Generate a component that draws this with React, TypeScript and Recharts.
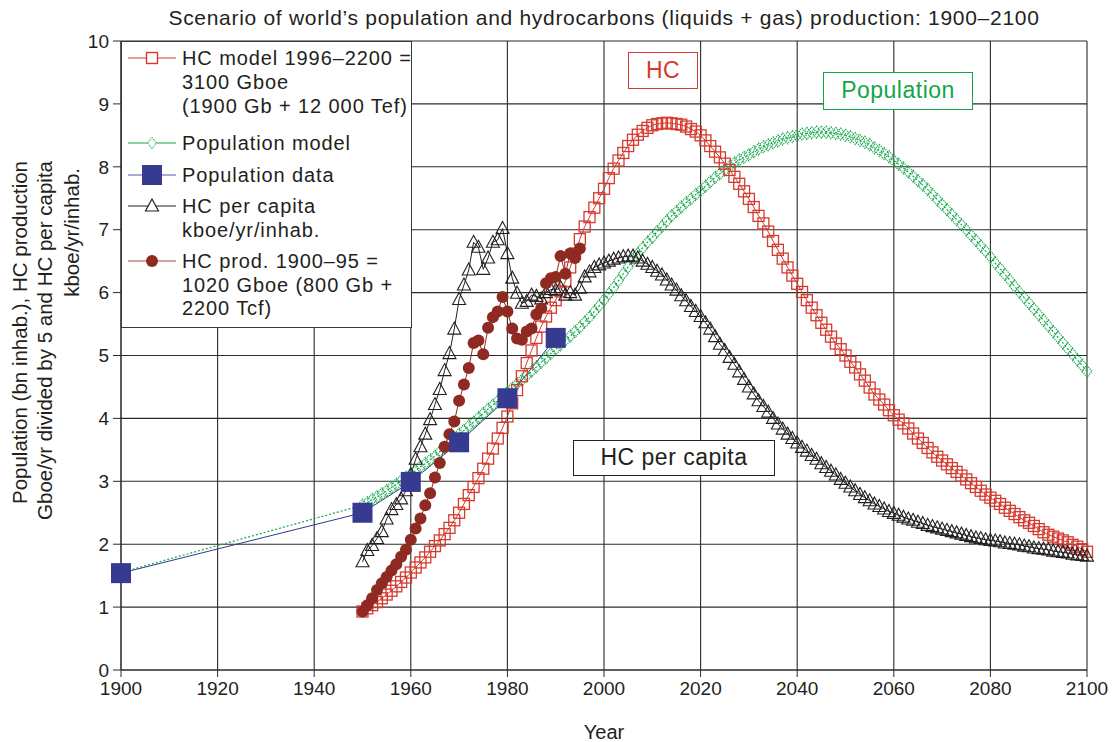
import React from 'react';
import { LineChart, Line, XAxis, YAxis, CartesianGrid } from 'recharts';

const FONT = '"Liberation Sans", Arial, Helvetica, sans-serif';
const TEXT = '#231f20';
const RED = '#d63a2f';
const GREEN = '#13a54a';
const BLUE = '#363a90';
const BLACK = '#231f20';
const BROWN = '#8e2a22';

const xTicks = [1900, 1920, 1940, 1960, 1980, 2000, 2020, 2040, 2060, 2080, 2100];
const yTicks = [0, 1, 2, 3, 4, 5, 6, 7, 8, 9, 10];

const popDataYears = [1900, 1950, 1960, 1970, 1980, 1990];
const popDataValues = [1.54, 2.5, 2.99, 3.62, 4.32, 5.28];

const years = [
  1950, 1951, 1952, 1953, 1954, 1955, 1956, 1957, 1958, 1959,
  1960, 1961, 1962, 1963, 1964, 1965, 1966, 1967, 1968, 1969,
  1970, 1971, 1972, 1973, 1974, 1975, 1976, 1977, 1978, 1979,
  1980, 1981, 1982, 1983, 1984, 1985, 1986, 1987, 1988, 1989,
  1990, 1991, 1992, 1993, 1994, 1995, 1996, 1997, 1998, 1999,
  2000, 2001, 2002, 2003, 2004, 2005, 2006, 2007, 2008, 2009,
  2010, 2011, 2012, 2013, 2014, 2015, 2016, 2017, 2018, 2019,
  2020, 2021, 2022, 2023, 2024, 2025, 2026, 2027, 2028, 2029,
  2030, 2031, 2032, 2033, 2034, 2035, 2036, 2037, 2038, 2039,
  2040, 2041, 2042, 2043, 2044, 2045, 2046, 2047, 2048, 2049,
  2050, 2051, 2052, 2053, 2054, 2055, 2056, 2057, 2058, 2059,
  2060, 2061, 2062, 2063, 2064, 2065, 2066, 2067, 2068, 2069,
  2070, 2071, 2072, 2073, 2074, 2075, 2076, 2077, 2078, 2079,
  2080, 2081, 2082, 2083, 2084, 2085, 2086, 2087, 2088, 2089,
  2090, 2091, 2092, 2093, 2094, 2095, 2096, 2097, 2098, 2099,
  2100,
];

const dataYears = [
  1950, 1951, 1952, 1953, 1954, 1955, 1956, 1957, 1958, 1959,
  1960, 1961, 1962, 1963, 1964, 1965, 1966, 1967, 1968, 1969,
  1970, 1971, 1972, 1973, 1974, 1975, 1976, 1977, 1978, 1979,
  1980, 1981, 1982, 1983, 1984, 1985, 1986, 1987, 1988, 1989,
  1990, 1991, 1992, 1993, 1994, 1995,
];

// HC model (red squares), 1950–2100
const hcModelValues = [
  0.93, 0.98, 1.03, 1.08, 1.14, 1.2, 1.26, 1.33, 1.4, 1.47,
  1.55, 1.63, 1.71, 1.79, 1.88, 1.97, 2.06, 2.16, 2.26, 2.38,
  2.5, 2.64, 2.78, 2.91, 3.05, 3.2, 3.36, 3.52, 3.68, 3.85,
  4.03, 4.24, 4.45, 4.67, 4.88, 5.08, 5.28, 5.46, 5.62, 5.76,
  5.88, 6.02, 6.18, 6.4, 6.62, 6.85, 7.05, 7.2, 7.35, 7.5,
  7.65, 7.82, 7.97, 8.1, 8.22, 8.33, 8.43, 8.51, 8.57, 8.62,
  8.66, 8.68, 8.69, 8.7, 8.69, 8.68, 8.67, 8.64, 8.6, 8.56,
  8.5, 8.42, 8.33, 8.24, 8.15, 8.05, 7.95, 7.84, 7.73, 7.61,
  7.49, 7.36, 7.22, 7.1, 6.97, 6.82, 6.68, 6.54, 6.4, 6.27,
  6.14, 6.01, 5.88, 5.76, 5.64, 5.52, 5.41, 5.3, 5.19, 5.1,
  5.0, 4.9, 4.81, 4.7, 4.6, 4.49, 4.38, 4.3, 4.22, 4.13,
  4.05, 3.98, 3.92, 3.84, 3.76, 3.68, 3.61, 3.53, 3.46, 3.39,
  3.33, 3.27, 3.21, 3.15, 3.09, 3.03, 2.97, 2.91, 2.85, 2.79,
  2.74, 2.69, 2.64, 2.58, 2.53, 2.48, 2.43, 2.38, 2.34, 2.29,
  2.24, 2.19, 2.15, 2.12, 2.09, 2.06, 2.03, 1.99, 1.96, 1.92,
  1.88,
];

// Population model (green diamonds), 1900 then 1950–2100
const popModelStartYear = [1900];
const popModelStartValue = [1.55];
const popModelValues = [
  2.62, 2.66, 2.71, 2.75, 2.8, 2.85, 2.9, 2.95, 3.01, 3.06,
  3.12, 3.17, 3.23, 3.28, 3.34, 3.4, 3.47, 3.54, 3.61, 3.68,
  3.75, 3.81, 3.88, 3.94, 4.01, 4.08, 4.15, 4.21, 4.28, 4.35,
  4.42, 4.48, 4.55, 4.61, 4.68, 4.75, 4.82, 4.89, 4.96, 5.03,
  5.1, 5.17, 5.24, 5.31, 5.38, 5.45, 5.53, 5.61, 5.7, 5.79,
  5.88, 5.98, 6.08, 6.19, 6.3, 6.41, 6.52, 6.62, 6.71, 6.8,
  6.88, 6.97, 7.05, 7.14, 7.22, 7.29, 7.36, 7.43, 7.49, 7.56,
  7.62, 7.69, 7.76, 7.83, 7.89, 7.95, 8.01, 8.06, 8.11, 8.15,
  8.19, 8.24, 8.28, 8.32, 8.35, 8.38, 8.41, 8.44, 8.46, 8.48,
  8.5, 8.52, 8.53, 8.54, 8.55, 8.55, 8.55, 8.54, 8.53, 8.52,
  8.5, 8.48, 8.45, 8.42, 8.39, 8.35, 8.3, 8.26, 8.21, 8.16,
  8.1, 8.04, 7.98, 7.92, 7.85, 7.78, 7.71, 7.64, 7.56, 7.48,
  7.4, 7.32, 7.24, 7.16, 7.08, 7.0, 6.91, 6.83, 6.74, 6.66,
  6.57, 6.47, 6.38, 6.29, 6.2, 6.1, 6.01, 5.92, 5.83, 5.74,
  5.65, 5.56, 5.47, 5.38, 5.29, 5.2, 5.11, 5.02, 4.93, 4.84,
  4.75,
];

// HC production data (dark red circles), 1950–1995
const hcProdValues = [
  0.93, 1.03, 1.14, 1.27, 1.38, 1.48, 1.58, 1.68, 1.8, 1.91,
  2.07, 2.25, 2.41, 2.62, 2.81, 3.06, 3.29, 3.55, 3.75, 3.95,
  4.28, 4.54, 4.8, 5.2, 5.24, 5.02, 5.44, 5.61, 5.7, 5.93,
  5.7, 5.43, 5.27, 5.25, 5.38, 5.43, 5.65, 5.75, 6.15, 6.23,
  6.25, 6.58, 6.3, 6.62, 6.55, 6.7,
];

// HC per capita (black triangles), 1950–2100
const perCapitaValues = [
  1.72, 1.9, 1.98, 2.09, 2.2, 2.4, 2.55, 2.63, 2.72, 2.85,
  3.1, 3.35, 3.55, 3.75, 3.98, 4.22, 4.46, 4.76, 5.03, 5.42,
  5.89, 6.12, 6.36, 6.8, 6.72, 6.37, 6.55, 6.8, 6.84, 7.02,
  6.62, 6.23, 5.99, 5.83, 5.86, 5.96, 5.94, 5.9, 6.0, 6.05,
  6.04, 6.08, 5.96, 6.0, 5.96, 6.07, 6.25, 6.33, 6.4, 6.44,
  6.47, 6.5, 6.53, 6.55, 6.57, 6.58, 6.58, 6.55, 6.5, 6.45,
  6.4, 6.34, 6.28, 6.2, 6.12, 6.04, 5.95, 5.87, 5.78, 5.7,
  5.62, 5.52, 5.42, 5.3, 5.18, 5.08, 4.97, 4.86, 4.74, 4.62,
  4.5, 4.39, 4.28, 4.19, 4.1, 4.0, 3.91, 3.83, 3.75, 3.68,
  3.61, 3.54, 3.48, 3.41, 3.35, 3.28, 3.22, 3.16, 3.1, 3.03,
  2.97, 2.91, 2.85, 2.79, 2.74, 2.69, 2.64, 2.6, 2.56, 2.52,
  2.49, 2.46, 2.43, 2.4, 2.38, 2.35, 2.33, 2.3, 2.28, 2.26,
  2.24, 2.22, 2.2, 2.18, 2.16, 2.14, 2.12, 2.1, 2.09, 2.07,
  2.06, 2.05, 2.04, 2.02, 2.01, 2.0, 1.99, 1.97, 1.96, 1.94,
  1.93, 1.92, 1.91, 1.89, 1.88, 1.87, 1.86, 1.84, 1.83, 1.82,
  1.81,
];

const zip = (xs: number[], ys: number[]) => xs.map((year, i) => ({ year, value: ys[i] }));

const hcModelData = zip(years, hcModelValues);
const popModelData = zip([...popModelStartYear, ...years], [...popModelStartValue, ...popModelValues]);
const popData = zip(popDataYears, popDataValues);
const hcProdData = zip(dataYears, hcProdValues);
const perCapitaData = zip(years, perCapitaValues);

const ok = (p: any) => p && p.cx != null && p.cy != null && !isNaN(p.cx) && !isNaN(p.cy);

const RedSquare = (p: any) =>
  ok(p) ? (
    <rect key={`rs${p.index}`} x={p.cx - 5.5} y={p.cy - 5.5} width={11} height={11} fill="none" stroke={RED} strokeWidth={1.3} />
  ) : (
    <g key={`rs${p.index}`} />
  );

const GreenDiamond = (p: any) =>
  ok(p) && p.index > 0 ? (
    <polygon
      key={`gd${p.index}`}
      points={`${p.cx},${p.cy - 6} ${p.cx + 5},${p.cy} ${p.cx},${p.cy + 6} ${p.cx - 5},${p.cy}`}
      fill="none"
      stroke={GREEN}
      strokeWidth={1.2}
      strokeDasharray="1.2 1"
    />
  ) : (
    <g key={`gd${p.index}`} />
  );

const BlueSquare = (p: any) =>
  ok(p) ? (
    <rect key={`bs${p.index}`} x={p.cx - 10} y={p.cy - 10} width={20} height={20} fill={BLUE} stroke="none" />
  ) : (
    <g key={`bs${p.index}`} />
  );

const Triangle = (p: any) =>
  ok(p) ? (
    <polygon
      key={`tr${p.index}`}
      points={`${p.cx},${p.cy - 7} ${p.cx + 6.5},${p.cy + 5} ${p.cx - 6.5},${p.cy + 5}`}
      fill="none"
      stroke={BLACK}
      strokeWidth={1.1}
    />
  ) : (
    <g key={`tr${p.index}`} />
  );

const Circle = (p: any) =>
  ok(p) ? <circle key={`ci${p.index}`} cx={p.cx} cy={p.cy} r={6} fill={BROWN} stroke="none" /> : <g key={`ci${p.index}`} />;

const legendText: [number, string][] = [
  [58, 'HC model 1996–2200 ='],
  [82, '3100 Gboe'],
  [106, '(1900 Gb + 12 000 Tef)'],
  [143, 'Population model'],
  [175, 'Population data'],
  [206, 'HC per capita'],
  [230, 'kboe/yr/inhab.'],
  [261, 'HC prod. 1900–95 ='],
  [285, '1020 Gboe (800 Gb +'],
  [308, '2200 Tcf)'],
];

const LegendIcon = ({ y, kind }: { y: number; kind: string }) => {
  const color =
    kind === 'sq' ? RED : kind === 'di' ? GREEN : kind === 'bs' ? '#5558a8' : kind === 'tr' ? BLACK : '#a04a44';
  return (
    <svg style={{ position: 'absolute', left: 127, top: y - 12, overflow: 'visible' }} width={50} height={24}>
      <line x1={1} y1={12} x2={49} y2={12} stroke={color} strokeWidth={1.2} />
      {kind === 'sq' && <rect x={19.5} y={6.5} width={11} height={11} fill="white" stroke={RED} strokeWidth={1.4} />}
      {kind === 'di' && (
        <polygon points="25,6.5 29.5,12 25,17.5 20.5,12" fill="white" stroke={GREEN} strokeWidth={1.1} strokeDasharray="1 1" />
      )}
      {kind === 'bs' && <rect x={15} y={2} width={20} height={20} fill={BLUE} />}
      {kind === 'tr' && <polygon points="25,5 31.5,17 18.5,17" fill="white" stroke={BLACK} strokeWidth={1.2} />}
      {kind === 'ci' && <circle cx={25} cy={12} r={6} fill={BROWN} />}
    </svg>
  );
};

const legendIcons: [number, string][] = [
  [58, 'sq'],
  [143, 'di'],
  [175, 'bs'],
  [206, 'tr'],
  [261, 'ci'],
];

const yLabelLines: [number, number, string][] = [
  [19, 161, 'Population (bn inhab.), HC production'],
  [44, 161, 'Gboe/yr divided by 5 and HC per capita'],
  [71, 168, 'kboe/yr/inhab.'],
];

const boxStyle = (left: number, top: number, width: number, height: number, color: string): React.CSSProperties => ({
  position: 'absolute',
  left,
  top,
  width,
  height,
  boxSizing: 'border-box',
  border: `1.5px solid ${color}`,
  background: 'white',
  color,
  fontSize: 23,
  lineHeight: `${height - 3}px`,
  textAlign: 'center',
  letterSpacing: 0.5,
});

export default function App() {
  return (
    <div
      style={{
        position: 'absolute',
        left: 0,
        top: 0,
        width: 1113,
        height: 742,
        background: 'white',
        fontFamily: FONT,
        color: TEXT,
        overflow: 'hidden',
      }}
    >
      <LineChart width={1113} height={742} margin={{ top: 41, right: 26, bottom: 42, left: 61 }}>
        <CartesianGrid stroke="#2b2b2b" strokeWidth={1.1} />
        <XAxis
          dataKey="year"
          type="number"
          domain={[1900, 2100]}
          ticks={xTicks}
          height={30}
          tickSize={7}
          tickMargin={5}
          stroke="#2b2b2b"
          tick={{ fill: TEXT, fontSize: 19, fontFamily: FONT }}
        />
        <YAxis
          type="number"
          domain={[0, 10]}
          ticks={yTicks}
          width={60}
          tickSize={8}
          tickMargin={4}
          stroke="#2b2b2b"
          tick={{ fill: TEXT, fontSize: 19, fontFamily: FONT }}
        />
        <Line
          data={popModelData}
          dataKey="value"
          stroke={GREEN}
          strokeWidth={1.2}
          strokeDasharray="2 2"
          dot={GreenDiamond}
          activeDot={false}
          isAnimationActive={false}
        />
        <Line
          data={hcModelData}
          dataKey="value"
          stroke={RED}
          strokeWidth={1}
          dot={RedSquare}
          activeDot={false}
          isAnimationActive={false}
        />
        <Line
          data={perCapitaData}
          dataKey="value"
          stroke={BLACK}
          strokeWidth={1}
          dot={Triangle}
          activeDot={false}
          isAnimationActive={false}
        />
        <Line
          data={hcProdData}
          dataKey="value"
          stroke={BROWN}
          strokeWidth={1}
          dot={Circle}
          activeDot={false}
          isAnimationActive={false}
        />
        <Line
          data={popData}
          dataKey="value"
          stroke={BLUE}
          strokeWidth={1}
          dot={BlueSquare}
          activeDot={false}
          isAnimationActive={false}
        />
      </LineChart>

      <div
        style={{
          position: 'absolute',
          left: 121,
          top: 6,
          width: 966,
          textAlign: 'center',
          fontSize: 21,
          lineHeight: '24px',
          letterSpacing: 0.7,
        }}
      >
        Scenario of world’s population and hydrocarbons (liquids + gas) production: 1900–2100
      </div>

      <div
        style={{
          position: 'absolute',
          left: 121,
          top: 723,
          width: 966,
          textAlign: 'center',
          fontSize: 20,
          lineHeight: '18px',
        }}
      >
        Year
      </div>

      <svg style={{ position: 'absolute', left: 0, top: 0 }} width={100} height={742}>
        {yLabelLines.map(([x, y, t]) => (
          <text
            key={t}
            transform={`translate(${x}, ${y}) rotate(-90)`}
            textAnchor="end"
            dominantBaseline="central"
            fontSize={20.5}
            fontFamily={FONT}
            fill={TEXT}
          >
            {t}
          </text>
        ))}
      </svg>

      <div
        style={{
          position: 'absolute',
          left: 121,
          top: 41,
          width: 291,
          height: 287,
          boxSizing: 'border-box',
          border: '1.2px solid #3a3a3a',
          background: 'white',
        }}
      />
      {legendIcons.map(([y, k]) => (
        <LegendIcon key={k} y={y} kind={k} />
      ))}
      {legendText.map(([y, t]) => (
        <div
          key={t}
          style={{
            position: 'absolute',
            left: 182,
            top: y - 12,
            fontSize: 20,
            lineHeight: '24px',
            whiteSpace: 'nowrap',
            letterSpacing: 0.9,
          }}
        >
          {t}
        </div>
      ))}

      <div style={boxStyle(628, 52, 70, 37, RED)}>HC</div>
      <div style={boxStyle(823, 72, 150, 38, GREEN)}>Population</div>
      <div style={boxStyle(573, 440, 202, 36, BLACK)}>HC per capita</div>
    </div>
  );
}
